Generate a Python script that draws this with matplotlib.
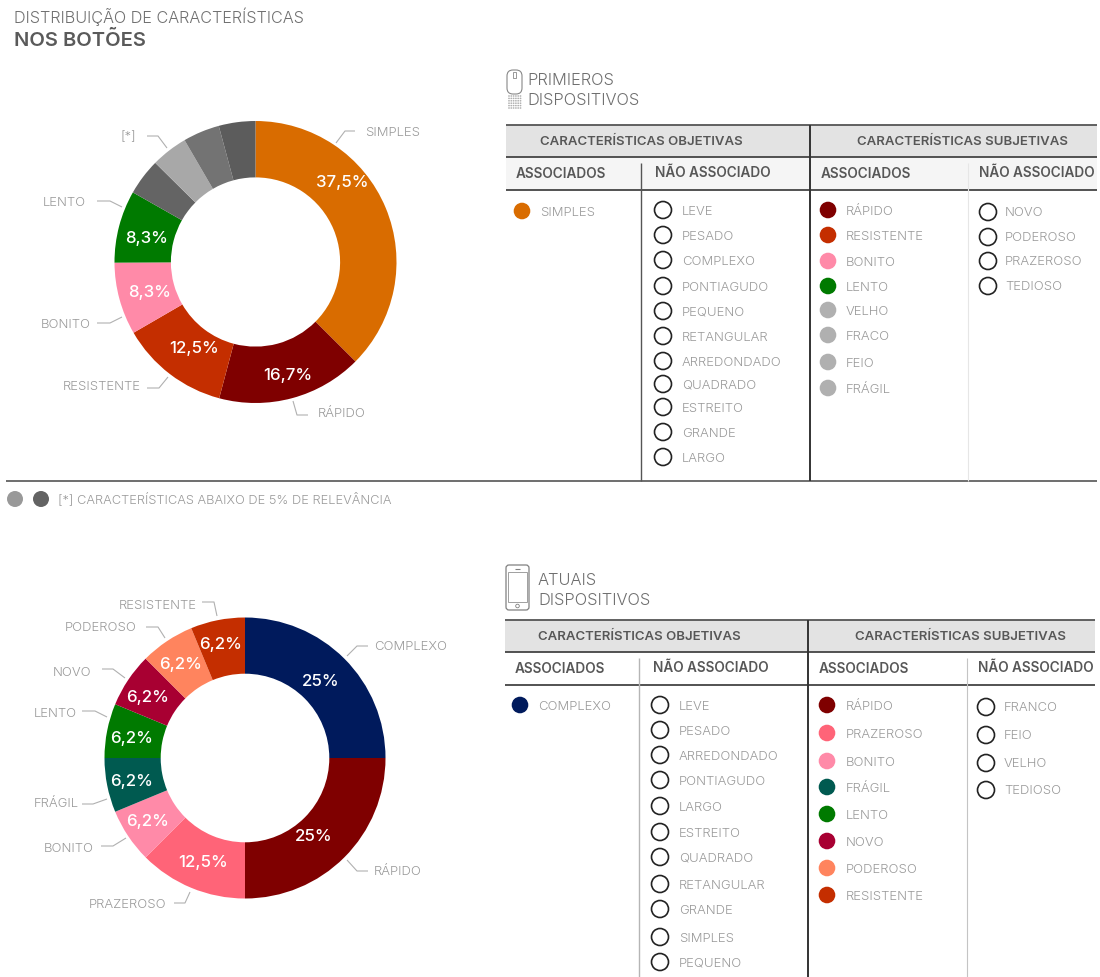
import matplotlib
matplotlib.use("Agg")
import matplotlib.pyplot as plt
from matplotlib.patches import Circle, Rectangle, FancyBboxPatch, Ellipse

plt.rcParams['font.family'] = ['Inter', 'DejaVu Sans']

W, H = 1100, 978

# ---------- data ----------
title_top = "DISTRIBUIÇÃO DE CARACTERÍSTICAS"
title_bold = "NOS BOTÕES"
footnote = "[*] CARACTERÍSTICAS ABAIXO DE 5% DE RELEVÂNCIA"

first_values = [37.5, 16.7, 12.5, 8.3, 8.3, 4.2, 4.2, 4.2, 4.2]
first_colors = ["#d96c00", "#7f0000", "#c42e00", "#ff8aa8", "#007a00",
                "#646464", "#a8a8a8", "#737373", "#5c5c5c"]
first_pct = ["37,5%", "16,7%", "12,5%", "8,3%", "8,3%"]
first_names = ["SIMPLES", "RÁPIDO", "RESISTENTE", "BONITO", "LENTO", "[*]"]

current_values = [25, 25, 12.5, 6.25, 6.25, 6.25, 6.25, 6.25, 6.25]
current_colors = ["#001a5c", "#7f0000", "#ff6478", "#ff8aa8", "#005a50",
                  "#007a00", "#a80032", "#ff845e", "#c42e00"]
current_pct = ["25%", "25%", "12,5%", "6,2%", "6,2%", "6,2%", "6,2%", "6,2%", "6,2%"]
current_names = ["COMPLEXO", "RÁPIDO", "PRAZEROSO", "BONITO", "FRÁGIL",
                 "LENTO", "NOVO", "PODEROSO", "RESISTENTE"]

t1_obj_assoc = ["SIMPLES"]
t1_obj_non = ["LEVE", "PESADO", "COMPLEXO", "PONTIAGUDO", "PEQUENO", "RETANGULAR",
              "ARREDONDADO", "QUADRADO", "ESTREITO", "GRANDE", "LARGO"]
t1_sub_assoc = ["RÁPIDO", "RESISTENTE", "BONITO", "LENTO", "VELHO", "FRACO", "FEIO", "FRÁGIL"]
t1_sub_assoc_colors = ["#7f0000", "#c42e00", "#ff8aa8", "#007a00",
                       "#b0b0b0", "#b0b0b0", "#b0b0b0", "#b0b0b0"]
t1_sub_non = ["NOVO", "PODEROSO", "PRAZEROSO", "TEDIOSO"]

t2_obj_assoc = ["COMPLEXO"]
t2_obj_non = ["LEVE", "PESADO", "ARREDONDADO", "PONTIAGUDO", "LARGO", "ESTREITO",
              "QUADRADO", "RETANGULAR", "GRANDE", "SIMPLES", "PEQUENO"]
t2_sub_assoc = ["RÁPIDO", "PRAZEROSO", "BONITO", "FRÁGIL", "LENTO", "NOVO", "PODEROSO", "RESISTENTE"]
t2_sub_assoc_colors = ["#7f0000", "#ff6478", "#ff8aa8", "#005a50",
                       "#007a00", "#a80032", "#ff845e", "#c42e00"]
t2_sub_non = ["FRANCO", "FEIO", "VELHO", "TEDIOSO"]

# ---------- layout (pixels) ----------
first_pct_xy = [(342, 182), (288, 375), (194, 348), (150, 292), (147, 238)]
current_pct_xy = [(321, 681), (314, 836), (203, 862), (148, 821), (132, 781),
                  (132, 738), (148, 697), (181, 664), (221, 644)]
first_name_xy = [(365, 132, 'left'), (318, 413, 'left'), (141, 386, 'right'),
                 (91, 324, 'right'), (86, 202, 'right'), (136, 136, 'right')]
current_name_xy = [(374, 646, 'left'), (374, 871, 'left'), (166, 904, 'right'),
                   (94, 848, 'right'), (79, 803, 'right'), (77, 713, 'right'),
                   (91, 672, 'right'), (137, 627, 'right'), (197, 605, 'right')]
first_leaders = [[(355, 131), (345, 131), (336, 143)], [(293, 401), (297, 415), (308, 415)],
                 [(147, 388), (159, 388), (168, 377)], [(97, 323), (110, 323), (122, 317)],
                 [(97, 201), (110, 201), (122, 207)], [(147, 136), (158, 136), (167, 148)]]
current_leaders = [[(368, 646), (357, 646), (347, 656)], [(368, 871), (357, 871), (347, 860)],
                   [(174, 903), (185, 903), (190, 892)], [(101, 846), (113, 846), (126, 838)],
                   [(82, 804), (93, 804), (107, 799)], [(82, 711), (95, 711), (107, 717)],
                   [(102, 669), (113, 669), (125, 678)], [(146, 627), (158, 627), (165, 638)],
                   [(202, 602), (214, 602), (217, 616)]]

GREY_TXT = "#999999"
HEAD_TXT = "#575757"
LEAD = "#b0b0b0"
FS = 9.4

fig = plt.figure(figsize=(W / 100, H / 100), dpi=100, facecolor="white")


def donut(cx, cy, r, values, colors):
    a = fig.add_axes([(cx - r) / W, 1 - (cy + r) / H, 2 * r / W, 2 * r / H])
    a.pie(values, colors=colors, startangle=90, counterclock=False, radius=1,
          wedgeprops=dict(width=0.4, linewidth=0))
    a.set_xlim(-1, 1)
    a.set_ylim(-1, 1)
    a.set_axis_off()


donut(255.5, 263, 141, first_values, first_colors)
donut(245, 759, 140.5, current_values, current_colors)

ax = fig.add_axes([0, 0, 1, 1], zorder=5)
ax.set_xlim(0, W)
ax.set_ylim(H - 1, -1)
ax.set_axis_off()
ax.patch.set_alpha(0)


def txt(x, y, s, size=FS, color=GREY_TXT, ha='left', weight=300):
    ax.text(x, y, s, fontsize=size, color=color, ha=ha, va='center', weight=weight)


def line(pts, color=LEAD, lw=0.8):
    ax.plot([p[0] for p in pts], [p[1] for p in pts], color=color, lw=lw,
            solid_capstyle='butt', solid_joinstyle='round')


# titles
txt(14, 16, title_top, size=11.7, color="#707070")
txt(14, 39, title_bold, size=14.5, color="#5a5a5a", weight='semibold')

# donut annotations
for s, (x, y) in zip(first_pct, first_pct_xy):
    txt(x, y, s, size=12.2, color="white", ha='center', weight='medium')
for s, (x, y) in zip(current_pct, current_pct_xy):
    txt(x, y, s, size=12.2, color="white", ha='center', weight='medium')
for s, (x, y, ha), pts in zip(first_names, first_name_xy, first_leaders):
    txt(x, y, s, ha=ha)
    line(pts)
for s, (x, y, ha), pts in zip(current_names, current_name_xy, current_leaders):
    txt(x, y, s, ha=ha)
    line(pts)

# footnote + separator
line([(6, 481), (1097, 481)], color="#555555", lw=1.2)
ax.add_patch(Circle((15, 499), 8, fc="#999999", ec="none"))
ax.add_patch(Circle((41, 499), 8, fc="#636363", ec="none"))
txt(58, 498, footnote, size=9.23)


def dot(x, y, color):
    ax.add_patch(Circle((x, y), 8.3, fc=color, ec="none", zorder=3))


def ring(x, y):
    ax.add_patch(Circle((x, y), 8.5, fc="white", ec="#222222", lw=1.2, zorder=3))


def table(x0, x1, xa, xb, xc, top, bottom, sub_bg, col4_color, col2_color, obj_x, sub_x):
    ax.add_patch(Rectangle((x0, top), x1 - x0, 32, fc="#e3e3e3", ec="none", zorder=0))
    if sub_bg:
        ax.add_patch(Rectangle((x0, top + 32), x1 - x0, 33, fc="#f5f5f5", ec="none", zorder=0))
    line([(x0, top), (x1, top)], color="#555555", lw=1.3)
    line([(x0, top + 32), (x1, top + 32)], color="#444444", lw=1.3)
    line([(x0, top + 65), (x1, top + 65)], color="#444444", lw=1.3)
    line([(xb, top), (xb, bottom)], color="#333333", lw=1.4)
    line([(xa, top + 38), (xa, bottom)], color=col2_color, lw=1.0)
    line([(xc, top + 38), (xc, bottom)], color=col4_color, lw=0.8)
    txt(obj_x, top + 16, "CARACTERÍSTICAS OBJETIVAS", size=9.5, color=HEAD_TXT, weight='semibold')
    txt(sub_x, top + 16, "CARACTERÍSTICAS SUBJETIVAS", size=9.5, color=HEAD_TXT, weight='semibold')
    txt(x0 + 10, top + 48, "ASSOCIADOS", size=9.8, color=HEAD_TXT, weight='semibold')
    txt(xa + 14, top + 47, "NÃO ASSOCIADO", size=9.8, color=HEAD_TXT, weight='semibold')
    txt(xb + 11, top + 48, "ASSOCIADOS", size=9.8, color=HEAD_TXT, weight='semibold')
    txt(xc + 11, top + 47, "NÃO ASSOCIADO", size=9.8, color=HEAD_TXT, weight='semibold')


table(506, 1097, 641, 810, 968, 125, 481, True, "#e6e6e6", "#555555", 540, 857)
table(505, 1095, 639, 808, 967, 620, 978, False, "#c4c4c4", "#b5b5b5", 538, 855)

# table rows: first
t1_y2 = [210, 235, 260, 286, 311, 336, 361, 384, 407, 432, 457]
t1_y3 = [210, 235, 261, 286, 310, 335, 362, 388]
t1_y4 = [212, 237, 261, 286]
dot(522, 211, first_colors[0])
txt(540, 212, t1_obj_assoc[0])
for s, y in zip(t1_obj_non, t1_y2):
    ring(663, y)
    txt(682, y + 1, s)
for s, c, y in zip(t1_sub_assoc, t1_sub_assoc_colors, t1_y3):
    dot(828, y, c)
    txt(846, y + 1, s)
for s, y in zip(t1_sub_non, t1_y4):
    ring(988, y)
    txt(1005, y, s)

# table rows: current
t2_y2 = [705, 730, 755, 780, 806, 832, 857, 884, 909, 937, 962]
t2_y3 = [705, 733, 761, 787, 814, 841, 868, 895]
t2_y4 = [707, 735, 763, 790]
dot(520, 705, current_colors[0])
txt(538, 706, t2_obj_assoc[0])
for s, y in zip(t2_obj_non, t2_y2):
    ring(660, y)
    txt(679, y + 1, s)
for s, c, y in zip(t2_sub_assoc, t2_sub_assoc_colors, t2_y3):
    dot(827, y, c)
    txt(846, y + 1, s)
for s, y in zip(t2_sub_non, t2_y4):
    ring(986, y)
    txt(1004, y, s)

# section headings
txt(527, 80, "PRIMIEROS", size=11.8, color="#6e6e6e")
txt(527, 100, "DISPOSITIVOS", size=11.8, color="#6e6e6e")
txt(538, 580, "ATUAIS", size=11.8, color="#6e6e6e")
txt(538, 600, "DISPOSITIVOS", size=11.8, color="#6e6e6e")

# mouse / keypad icon
ax.add_patch(FancyBboxPatch((507, 70), 15, 24, boxstyle="round,pad=0,rounding_size=6",
                            fc="white", ec="#888888", lw=0.8))
ax.add_patch(Rectangle((513, 72), 2.6, 6, fc="white", ec="#888888", lw=0.6))
for j in range(6):
    for i in range(6):
        ax.add_patch(Ellipse((509 + i * 2.3, 96 + j * 2.4), 1.8, 1.6, fc="#b0b0b0", ec="none"))

# phone icon
ax.add_patch(FancyBboxPatch((506, 565), 23, 45, boxstyle="round,pad=0,rounding_size=3",
                            fc="white", ec="#808080", lw=0.9))
ax.add_patch(Rectangle((508, 572), 19, 30, fc="white", ec="#a0a0a0", lw=0.7))
ax.add_patch(Circle((517.5, 606), 1.8, fc="white", ec="#808080", lw=0.6))
line([(515, 568.5), (520, 568.5)], color="#808080", lw=0.8)

fig.savefig("out.png", dpi=100, facecolor="white")
